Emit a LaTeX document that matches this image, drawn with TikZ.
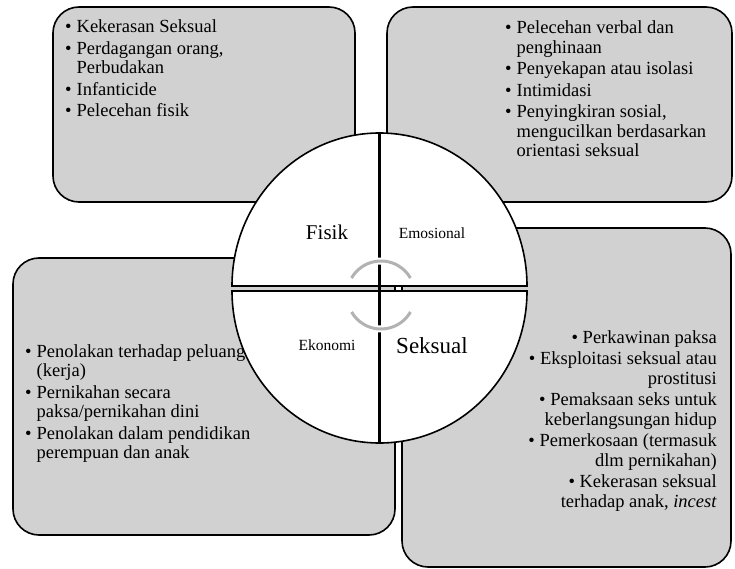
\documentclass[tikz,border=0pt]{standalone}
\usepackage{fontspec}
\setmainfont{Liberation Serif}
\definecolor{panelgray}{RGB}{209,209,209}
\definecolor{turngray}{RGB}{178,178,178}
\tikzset{
  panel/.style={draw=black, line width=1.6pt, fill=panelgray, rounded corners=26pt},
  quad/.style={draw=black, line width=1.6pt, fill=white},
  itemtext/.style={inner sep=0pt, font=\fontsize{18.5}{19.5}\selectfont},
  biglabel/.style={inner sep=0pt, anchor=base, font=\fontsize{21}{24}\selectfont},
  smalllabel/.style={inner sep=0pt, anchor=base, font=\fontsize{15.5}{18}\selectfont},
  turn/.style={turngray, line width=3pt}
}
\begin{document}
\begin{tikzpicture}[x=1pt,y=-1pt]
    \useasboundingbox (0,0) rectangle (735,569);

    \draw[panel] (53,7) rectangle (355,202);
    \draw[panel] (387,7) rectangle (732,202);
    \draw[panel] (13,258) rectangle (395,535);
    \draw[panel] (402,228) rectangle (731,567);

    \node[itemtext, anchor=base west] (fisiklist) at (65,33) {%
        \begin{tabular}[t]{@{}l@{\hspace{5pt}}l@{}}
        • & Kekerasan Seksual\\[2pt]
        • & Perdagangan orang,\\
          & Perbudakan\\[2pt]
        • & Infanticide\\[2pt]
        • & Pelecehan fisik
        \end{tabular}};
    \node[itemtext, anchor=base west] (emosilist) at (505,34) {%
        \begin{tabular}[t]{@{}l@{\hspace{5pt}}l@{}}
        • & Pelecehan verbal dan\\
          & penghinaan\\[2pt]
        • & Penyekapan atau isolasi\\[2pt]
        • & Intimidasi\\[2pt]
        • & Penyingkiran sosial,\\
          & mengucilkan berdasarkan\\
          & orientasi seksual
        \end{tabular}};
    \node[itemtext, anchor=base west] (ekonomilist) at (25,357) {%
        \begin{tabular}[t]{@{}l@{\hspace{5pt}}l@{}}
        • & Penolakan terhadap peluang\\
          & (kerja)\\[2pt]
        • & Pernikahan secara\\
          & paksa/pernikahan dini\\[2pt]
        • & Penolakan dalam pendidikan\\
          & perempuan dan anak
        \end{tabular}};
    \node[itemtext, anchor=base east] (seksuallist) at (717,343) {%
        \begin{tabular}[t]{@{}r@{}}
        • Perkawinan paksa\\[2pt]
        • Eksploitasi seksual atau\\
        prostitusi\\[2pt]
        • Pemaksaan seks untuk\\
        keberlangsungan hidup\\[2pt]
        • Pemerkosaan (termasuk\\
        dlm pernikahan)\\[2pt]
        • Kekerasan seksual\\
        terhadap anak, \textit{incest}
        \end{tabular}};

    % the split circle
    \coordinate (top) at (379.5,133);
    \coordinate (bottom) at (379.5,443);
    \coordinate (hub) at (381,295);
    \draw[quad] (379.5,286) -- (232,286) arc[start angle=180, end angle=270, x radius=147.5, y radius=153] -- cycle;
    \draw[quad] (379.5,286) -- (379.5,133) arc[start angle=270, end angle=360, x radius=147.5, y radius=153] -- cycle;
    \draw[quad] (379.5,291) -- (232,291) arc[start angle=180, end angle=90, x radius=147.5, y radius=152] -- cycle;
    \draw[quad] (379.5,291) -- (527,291) arc[start angle=0, end angle=90, x radius=147.5, y radius=152] -- cycle;
    \draw[line width=3pt] (top) -- (bottom);

    \draw[white, line width=7pt] ([shift={(210:34)}]hub) arc[start angle=210, end angle=330, radius=34];
    \draw[white, line width=7pt] ([shift={(30:34)}]hub) arc[start angle=30, end angle=150, radius=34];
    \draw[turn] ([shift={(210:34)}]hub) arc[start angle=210, end angle=330, radius=34];
    \draw[turn] ([shift={(30:34)}]hub) arc[start angle=30, end angle=150, radius=34];

    \node[biglabel] (fisik) at (327,239) {Fisik};
    \node[smalllabel] (emosional) at (432,238) {Emosional};
    \node[smalllabel] (ekonomi) at (327,350) {Ekonomi};
    \node[biglabel, font=\fontsize{23}{26}\selectfont] (seksual) at (432,353) {Seksual};
\end{tikzpicture}
\end{document}
